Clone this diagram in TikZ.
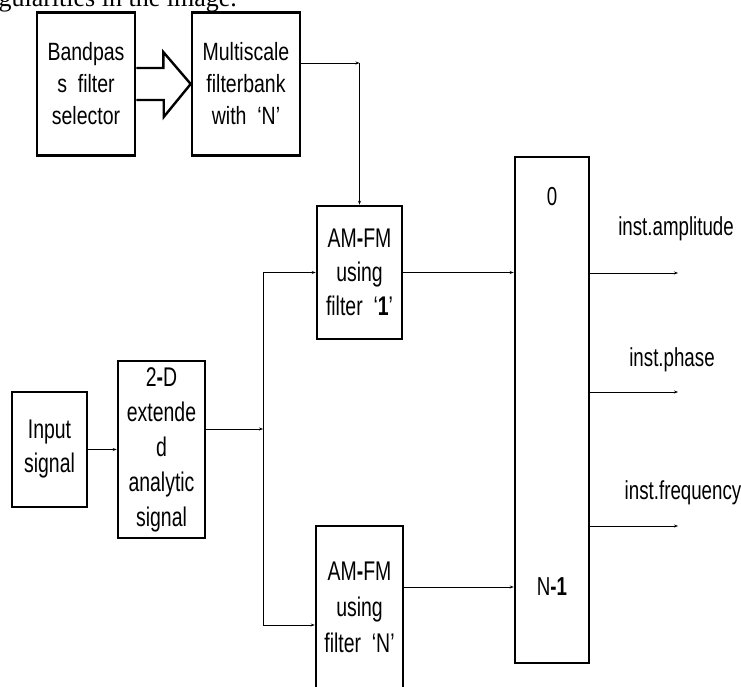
\documentclass[tikz,border=0pt]{standalone}
\usepackage{fontspec}
\setmainfont{Liberation Sans}[FakeStretch=0.72]
\newfontfamily\widersans{Liberation Sans}[FakeStretch=0.78]
\newfontfamily\paperfont{Liberation Serif}
\usetikzlibrary{calc,arrows.meta}

\begin{document}
\begin{tikzpicture}[x=1pt,y=-1pt,
  blk/.style={draw,line width=2.6pt,inner sep=0pt,align=center,
    font=\fontsize{27}{34}\selectfont},
  topblk/.style={blk,font=\widersans\fontsize{25}{32}\selectfont},
  lbl/.style={font=\fontsize{26}{30}\selectfont},
  wire/.style={line width=0.8pt},
  arr/.style={wire,-{Stealth[length=4pt,width=3pt]}}]
  \useasboundingbox (0,0) rectangle (741,687);
  \clip (0,0) rectangle (741,687);
  \node[anchor=base west,font=\paperfont\fontsize{26}{30}\selectfont] (cap) at (-5,7) {gularities in the image.};

  \node[topblk,minimum width=98pt,minimum height=143pt] (bp) at (86,84) {Bandpas\\s~~filter\\selector};
  \node[topblk,minimum width=108pt,minimum height=143pt] (ms) at (246,84) {Multiscale\\filterbank\\with~~‘N’};
  \node[blk,minimum width=75pt,minimum height=115pt] (in) at (49.5,449.5) {Input\\signal};
  \node[blk,minimum width=87pt,minimum height=177pt,font=\fontsize{27}{35}\selectfont] (td) at (161.5,449.5) {2\textbf{-}D\\extende\\d\\analytic\\signal};
  \node[blk,minimum width=85pt,minimum height=133pt] (am1) at (359.5,272.5) {AM\textbf{-}FM\\using\\filter~~‘\textbf{1}’};
  \node[blk,minimum width=87pt,minimum height=162pt,font=\fontsize{27}{36}\selectfont] (amN) at (359.5,607) {AM\textbf{-}FM\\using\\filter~~‘N’};
  \node[blk,minimum width=74pt,minimum height=506pt] (mux) at (552,410) {};
  \node[lbl] (z0) at ($(mux.north)+(0,41)$) {0};
  \node[lbl] (zn) at ($(mux.south)+(0,-78)$) {N\textbf{-1}};

  \draw[line width=2.4pt,fill=white,line join=miter] ($(bp.east)+(0,-16)$) -- ++(27,0) -- ++(0,-16)
    -- (ms.west) -- ($(ms.west)+(-27,33)$) -- ++(0,-17) -- ($(bp.east)+(0,16)$);

  \coordinate (mso) at ([yshift=21pt]ms.east);
  \draw[arr] (mso) -- (mso -| am1.north);
  \draw[arr] (mso -| am1.north) -- (am1.north);

  \draw[arr] (in.east) -- (in.east -| td.west);
  \coordinate (sp) at (263,429);
  \coordinate (nin) at ([yshift=-18pt]amN.west);
  \coordinate (nout) at ([yshift=20pt]amN.east);
  \draw[arr] (td.east |- sp) -- (sp);
  \draw[wire] (sp |- am1.west) -- (sp |- nin);
  \draw[arr] (sp |- am1.west) -- (am1.west);
  \draw[arr] (sp |- nin) -- (nin);
  \draw[arr] (am1.east) -- (am1.east -| mux.west);
  \draw[arr] (nout) -- (nout -| mux.west);

  \coordinate (oa) at (678,273);
  \coordinate (op) at (678,392);
  \coordinate (of) at (678,526);
  \draw[arr] (oa -| mux.east) -- (oa);
  \draw[arr] (op -| mux.east) -- (op);
  \draw[arr] (of -| mux.east) -- (of);
  \node[lbl] (amp) at (676,229) {inst.amplitude};
  \node[lbl] (pha) at (672,360) {inst.phase};
  \node[lbl] (fre) at (683,493) {inst.frequency};
\end{tikzpicture}
\end{document}
